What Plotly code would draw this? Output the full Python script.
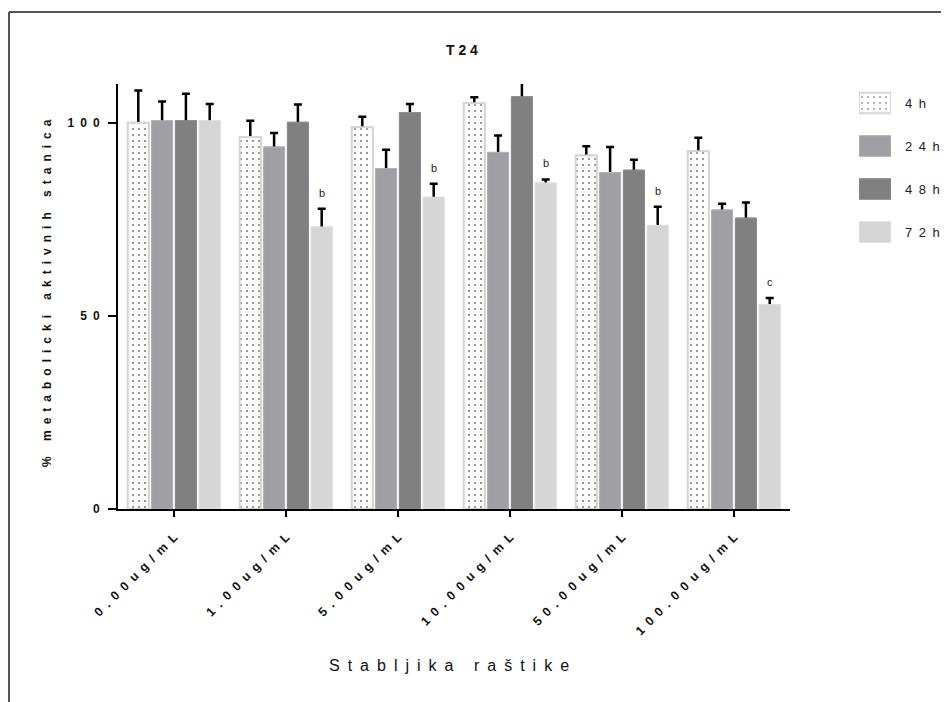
import plotly.graph_objects as go

# ---------------- data ----------------
categories = ["0.00ug/mL", "1.00ug/mL", "5.00ug/mL", "10.00ug/mL", "50.00ug/mL", "100.00ug/mL"]
series_names = ["4h", "24h", "48h", "72h"]

vals_4h = [100.0, 96.3, 98.8, 105.0, 91.5, 92.6]
err_4h = [8.3, 4.2, 2.7, 1.6, 2.4, 3.5]
vals_24h = [100.5, 93.7, 88.1, 92.3, 87.1, 77.4]
err_24h = [5.0, 3.6, 4.9, 4.4, 6.6, 1.6]
vals_48h = [100.5, 100.1, 102.6, 106.7, 87.7, 75.3]
err_48h = [7.0, 4.6, 2.2, 4.0, 2.7, 4.0]
vals_72h = [100.5, 73.0, 80.7, 84.4, 73.4, 52.9]
err_72h = [4.3, 4.7, 3.5, 0.9, 4.8, 1.7]
letters_72h = ["", "b", "b", "b", "b", "c"]

y_tick_vals = [0, 50, 100]
title_text = "T 2 4"
x_title_text = "Stabljika raštike"
y_title_text = "% metabolicki aktivnih stanica"

# ---------------- styling helpers ----------------
EN = "\u2002"


def spaced(s, word_sep=EN * 2 + " "):
    return word_sep.join(EN.join(list(w)) for w in s.split(" "))


FONT = "Liberation Sans, Arial, sans-serif"
colors = ["white", "#a0a0a4", "#808080", "#d5d5d5"]
line_colors = ["#d6d6d6", "#b2b2b5", "#8c8c8c", "#dedede"]
line_widths = [2, 1, 1, 1]
patterns = [".", "", "", ""]

values = [vals_4h, vals_24h, vals_48h, vals_72h]
errors = [err_4h, err_24h, err_48h, err_72h]
xpos = list(range(len(categories)))

# geometry in window pixels; page body adds an 8px offset
OFF = 8
WIN_W, WIN_H = 949, 702
W, H = WIN_W - OFF, WIN_H - OFF
PL, PR, PT, PB = 118, 790, 84, 509          # main plot-area edges in window px
FULL_R = 905                                 # right edge of the plot container (covers legend)
L, T = PL - OFF, PT - OFF
R, B = W - (FULL_R - OFF), H - (PB - OFF)
PW, PH = W - L - R, H - T - B

LEG_X0, LEG_X1 = 859, 891                    # legend swatch horizontal extent
LEG_ROW0, LEG_DY = 103, 43                   # legend row centres


def px_x(px):
    return (px - PL) / PW


def px_y(py):
    return (PB - py) / PH


fig = go.Figure()


def marker_for(i):
    m = dict(color=colors[i], line=dict(color=line_colors[i], width=line_widths[i]))
    if patterns[i]:
        m["pattern"] = dict(shape=patterns[i], fgcolor="black", bgcolor="white",
                            size=6, solidity=0.1, fillmode="overlay")
    return m


# bars carrying the error bars (error line runs from 0, hidden by cover bars)
for i in range(4):
    fig.add_trace(go.Bar(
        x=xpos, y=values[i], name=spaced(series_names[i]), offsetgroup=str(i),
        marker=marker_for(i),
        error_y=dict(type="data", symmetric=False, array=errors[i], arrayminus=values[i],
                     color="black", thickness=2.5, width=4),
        showlegend=False, hoverinfo="skip"))

# cover bars drawn on top so only the upward part of the error bar is visible
for i in range(4):
    fig.add_trace(go.Bar(
        x=xpos, y=values[i], name=spaced(series_names[i]), offsetgroup=str(i),
        marker=marker_for(i), showlegend=False))

# custom legend swatches on an auxiliary axis pair
fig.add_trace(go.Bar(
    x=[1, 1, 1, 1], y=[0, 1, 2, 3], base=0, orientation="h", width=0.48,
    xaxis="x2", yaxis="y2",
    marker=dict(color=colors, line=dict(color=line_colors, width=line_widths),
                pattern=dict(shape=patterns, fgcolor="black", bgcolor="white",
                             size=6, solidity=0.1, fillmode="overlay")),
    showlegend=False, hoverinfo="skip"))

bargap = 0.15
slot = (1 - bargap) / 4
annotations = []
for j, lab in enumerate(letters_72h):
    if lab:
        annotations.append(dict(
            x=xpos[j] + 1.5 * slot, y=vals_72h[j] + err_72h[j], xref="x", yref="y",
            text=lab, showarrow=False, yanchor="bottom", yshift=8,
            font=dict(family=FONT, size=11, color="#222222")))

for k, nm in enumerate(series_names):
    annotations.append(dict(
        x=px_x(903), y=k, xref="paper", yref="y2", text=spaced(nm), showarrow=False,
        xanchor="left", yanchor="middle", font=dict(family=FONT, size=13, color="#222222")))

annotations.append(dict(
    x=px_x(47), y=px_y(293), xref="paper", yref="paper", text="<b>" + spaced(y_title_text) + "</b>",
    textangle=-90, showarrow=False, xanchor="center", yanchor="middle",
    font=dict(family=FONT, size=12, color="#111111")))
annotations.append(dict(
    x=px_x(449), y=px_y(665), xref="paper", yref="paper", text=spaced(x_title_text),
    showarrow=False, xanchor="center", yanchor="middle",
    font=dict(family=FONT, size=16, color="#111111")))
annotations.append(dict(
    x=px_x(462), y=px_y(50), xref="paper", yref="paper", text="<b>" + title_text + "</b>",
    showarrow=False, xanchor="center", yanchor="middle",
    font=dict(family=FONT, size=14, color="#111111")))

shapes = [
    dict(type="line", xref="paper", yref="paper", x0=px_x(9), x1=px_x(9), y0=px_y(12), y1=px_y(720),
         line=dict(color="#555555", width=2)),
    dict(type="line", xref="paper", yref="paper", x0=px_x(9), x1=px_x(960), y0=px_y(12), y1=px_y(12),
         line=dict(color="#555555", width=2)),
]

ly_top, ly_bot = 88, 250
fig.update_layout(
    width=W, height=H,
    margin=dict(l=L, r=R, t=T, b=B, pad=0),
    plot_bgcolor="rgba(0,0,0,0)", paper_bgcolor="white",
    barmode="group", bargap=bargap, bargroupgap=0.12,
    showlegend=False,
    font=dict(family=FONT, color="#111111"),
    xaxis=dict(domain=[0, px_x(PR)], range=[-0.5, 5.5],
               tickvals=xpos, ticktext=["<b>" + spaced(c) + "</b>" for c in categories],
               tickangle=-45, tickfont=dict(family=FONT, size=12.5, color="#111111"),
               showline=True, linecolor="black", linewidth=2,
               ticks="outside", ticklen=6, tickwidth=2, tickcolor="black",
               showgrid=False, zeroline=False, ticklabelstandoff=8),
    yaxis=dict(domain=[0, 1], range=[0, 110],
               tickvals=y_tick_vals, ticktext=["<b>" + spaced(str(v)) + "</b>" for v in y_tick_vals],
               tickfont=dict(family=FONT, size=12, color="#111111"),
               showline=True, linecolor="black", linewidth=2,
               ticks="outside", ticklen=8, tickwidth=2, tickcolor="black",
               showgrid=False, zeroline=False, ticklabelstandoff=6),
    xaxis2=dict(domain=[px_x(LEG_X0), px_x(LEG_X1)], range=[0, 1],
                anchor="y2", visible=False, fixedrange=True),
    yaxis2=dict(domain=[px_y(ly_bot), px_y(ly_top)],
                range=[(ly_bot - LEG_ROW0) / LEG_DY, (ly_top - LEG_ROW0) / LEG_DY],
                anchor="x2", visible=False, fixedrange=True),
    annotations=annotations,
    shapes=shapes,
)

fig.write_html("out.html")
